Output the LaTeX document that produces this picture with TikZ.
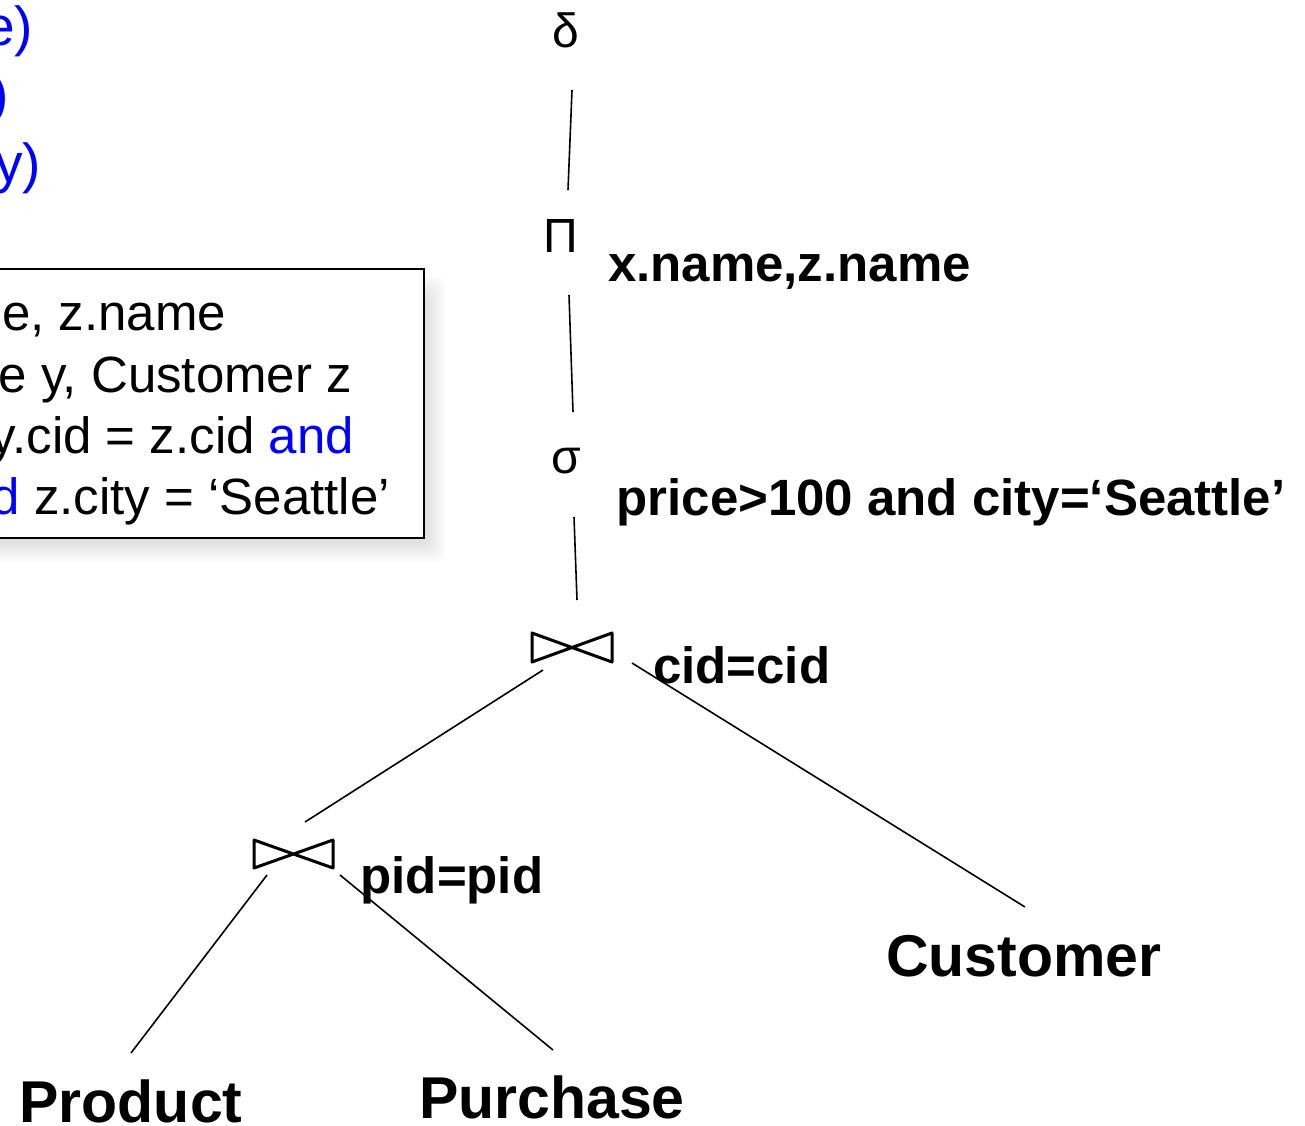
\documentclass[tikz,border=0pt]{standalone}
\usepackage{fontspec}
\setmainfont{Liberation Sans}
\definecolor{sqlblue}{RGB}{0,0,255}
\begin{document}
\begin{tikzpicture}[x=1pt,y=-1pt,
  txt/.style={inner sep=0pt, outer sep=0pt},
  op/.style={txt, font=\fontsize{48}{58}\selectfont, anchor=base},
  cond/.style={txt, font=\fontsize{51}{61}\selectfont\bfseries, anchor=base west},
  rel/.style={txt, font=\fontsize{59}{70}\selectfont\bfseries, anchor=base},
  sql/.style={txt, font=\fontsize{51}{61}\selectfont, anchor=base east},
  schema/.style={txt, font=\fontsize{55}{66}\selectfont, text=sqlblue, anchor=base east},
  edge/.style={line width=1.6pt},
  joinbox/.style={minimum width=80pt, minimum height=29pt, inner sep=0pt, outer sep=0pt},
  bowtie/.style={line width=3pt, line join=round}]
\useasboundingbox (0,0) rectangle (1305,1125);

% soft shadow of the SQL box
\foreach \k in {0,...,9}
  \fill[black, opacity=0.012, rounded corners=10pt] (-30,276+2*\k) rectangle (446-2*\k,562-2*\k);
\node[draw, fill=white, line width=2.5pt, minimum width=464pt, minimum height=269pt, inner sep=0pt] (sqlbox) at (192,403.5) {};

% schema fragments (blue)
\node[schema] (s1) at (33,45) {e)};
\node[schema] (s2) at (9,113) {)};
\node[schema] (s3) at (41,182) {y)};

% SQL query fragments
\node[sql] (q1) at (226,330) {e, z.name};
\node[sql] (q2) at (352,392) {e y, Customer z};
\node[sql] (q3) at (354,453) {y.cid = z.cid \textcolor{sqlblue}{and}};
\node[sql] (q4) at (390,514) {\textcolor{sqlblue}{d} z.city = ‘Seattle’};

% operators
\node[op] (delta) at (566,47) {δ};
\node[op] (pi) at (561,252) {Π};
\node[op] (sigma) at (566,473) {σ};

\node[joinbox] (j1) at (572,647.5) {};
\draw[bowtie] (j1.north west) -- (j1.south east) -- (j1.north east) -- (j1.south west) -- cycle;
\node[joinbox, minimum width=79pt, minimum height=28pt] (j2) at (293.5,854) {};
\draw[bowtie] (j2.north west) -- (j2.south east) -- (j2.north east) -- (j2.south west) -- cycle;

% labels
\node[cond] (lproj) at (608,281) {x.name,z.name};
\node[cond] (lsel) at (616.5,515) {price>100 and city=‘Seattle’};
\node[cond] (lj1) at (653,683) {cid=cid};
\node[cond] (lj2) at (360.5,893) {pid=pid};

% relations
\node[rel] (customer) at (1024,976) {Customer};
\node[rel] (product) at (131,1122) {Product};
\node[rel] (purchase) at (552,1118) {Purchase};

% connectors
\draw[edge] ([shift={(6,43)}]delta.base) -- ([shift={(7,-62)}]pi.base);
\draw[edge] ([shift={(8,43)}]pi.base) -- ([shift={(7,-61)}]sigma.base);
\draw[edge] ([shift={(8,44)}]sigma.base) -- ([shift={(5,-47.5)}]j1.center);
\draw[edge] ([shift={(-29,22.5)}]j1.center) -- ([shift={(11.5,-32)}]j2.center);
\draw[edge] ([shift={(60,15.5)}]j1.center) -- ([shift={(1,-69)}]customer.base);
\draw[edge] ([shift={(-26.5,21)}]j2.center) -- ([shift={(0,-69)}]product.base);
\draw[edge] ([shift={(46.5,21)}]j2.center) -- ([shift={(1,-68)}]purchase.base);
\end{tikzpicture}
\end{document}
